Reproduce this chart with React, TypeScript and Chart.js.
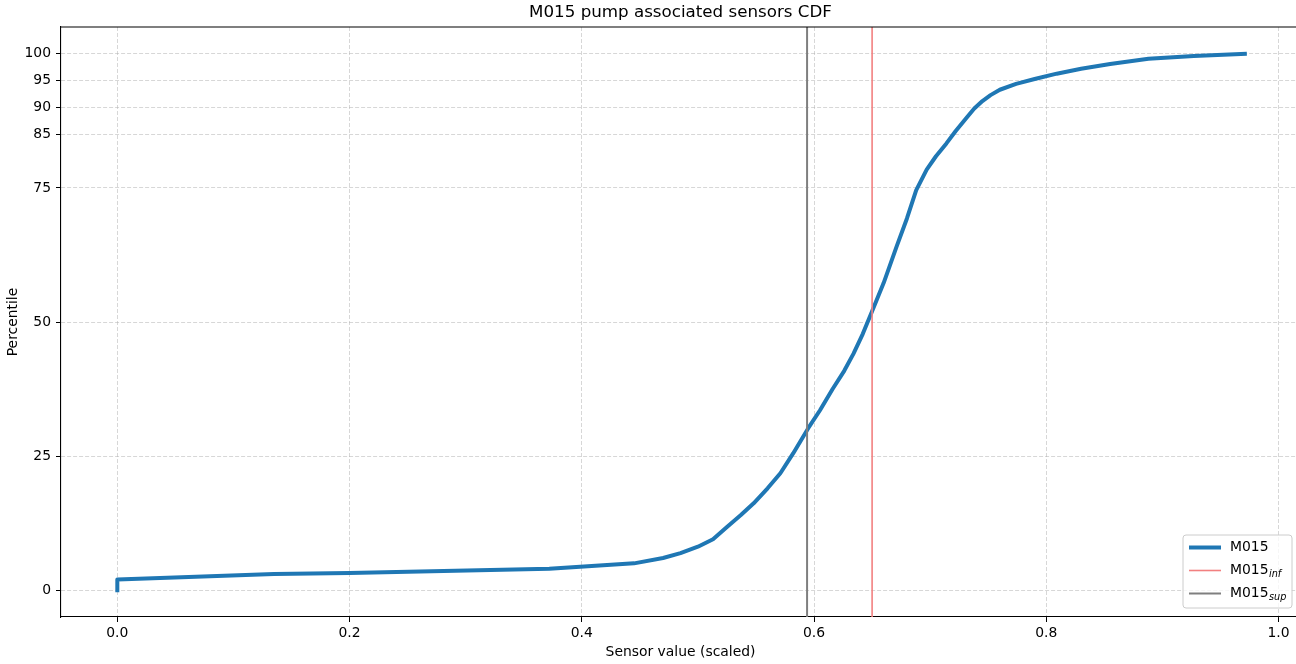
import React, { useEffect, useRef } from "react";
import { Chart, registerables } from "chart.js";

Chart.register(...registerables);

// ---- data ----
const seriesName = "M015";
const cdfX = [0, 0, 0.135, 0.2, 0.372, 0.445, 0.47, 0.485, 0.5, 0.513, 0.525, 0.537, 0.548, 0.56, 0.571, 0.582, 0.595, 0.605, 0.616, 0.626, 0.634, 0.642, 0.65, 0.66, 0.671, 0.68, 0.688, 0.697, 0.705, 0.714, 0.722, 0.731, 0.738, 0.745, 0.752, 0.76, 0.774, 0.79, 0.809, 0.83, 0.855, 0.888, 0.927, 0.971];
const cdfY = [0, 2.0, 3.0, 3.2, 4.0, 5.0, 6.0, 6.9, 8.1, 9.5, 11.8, 14.0, 16.2, 19.0, 21.8, 25.5, 30.2, 33.5, 37.5, 40.9, 44.1, 47.8, 52.0, 57.3, 64.0, 69.3, 74.6, 78.4, 80.9, 83.3, 85.6, 88.0, 89.8, 91.2, 92.3, 93.3, 94.4, 95.3, 96.3, 97.2, 98.1, 99.1, 99.6, 100];
const infValue = 0.65;
const supValue = 0.594;
const xTicks = [0, 0.2, 0.4, 0.6, 0.8, 1.0];
const yTicks = [0, 25, 50, 75, 85, 90, 95, 100];
const xRange = [-0.0485, 1.0185];
const yRange = [-5, 105];
const titleText = "M015 pump associated sensors CDF";
const xLabel = "Sensor value (scaled)";
const yLabel = "Percentile";

const FONT = "'DejaVu Sans', 'Liberation Sans', sans-serif";
const BLUE = "#1f77b4";
const RED = "#f28080";
const GREY = "#7f7f7f";
const FS = 13.9;

const framePlugin = {
  id: "mplFrame",
  afterDraw(chart: any) {
    const { ctx, chartArea } = chart;
    const { left, right, top, bottom } = chartArea;
    ctx.save();
    // top spine
    ctx.strokeStyle = "#000";
    ctx.lineWidth = 1.1;
    ctx.beginPath();
    ctx.moveTo(left, top);
    ctx.lineTo(right, top);
    ctx.stroke();
    // title
    ctx.fillStyle = "#000";
    ctx.font = `16.7px ${FONT}`;
    ctx.textAlign = "center";
    ctx.textBaseline = "middle";
    ctx.fillText(titleText, (left + right) / 2, 13);

    // legend
    const w = 109;
    const h = 73;
    const x0 = right - 8 - w;
    const y0 = bottom - 9 - h;
    const r = 3;
    ctx.beginPath();
    ctx.moveTo(x0 + r, y0);
    ctx.lineTo(x0 + w - r, y0);
    ctx.arcTo(x0 + w, y0, x0 + w, y0 + r, r);
    ctx.lineTo(x0 + w, y0 + h - r);
    ctx.arcTo(x0 + w, y0 + h, x0 + w - r, y0 + h, r);
    ctx.lineTo(x0 + r, y0 + h);
    ctx.arcTo(x0, y0 + h, x0, y0 + h - r, r);
    ctx.lineTo(x0, y0 + r);
    ctx.arcTo(x0, y0, x0 + r, y0, r);
    ctx.closePath();
    ctx.fillStyle = "rgba(255,255,255,0.8)";
    ctx.fill();
    ctx.strokeStyle = "#cccccc";
    ctx.lineWidth = 1;
    ctx.stroke();

    const rows = [
      { color: BLUE, width: 4, sub: "" },
      { color: RED, width: 1.6, sub: "inf" },
      { color: GREY, width: 2, sub: "sup" },
    ];
    rows.forEach((row, i) => {
      const y = y0 + 12.5 + i * 23;
      ctx.strokeStyle = row.color;
      ctx.lineWidth = row.width;
      ctx.lineCap = "butt";
      ctx.beginPath();
      ctx.moveTo(x0 + 6, y);
      ctx.lineTo(x0 + 38, y);
      ctx.stroke();
      ctx.fillStyle = "#000";
      ctx.textAlign = "left";
      ctx.textBaseline = "middle";
      ctx.font = `${FS}px ${FONT}`;
      ctx.fillText(seriesName, x0 + 47, y);
      if (row.sub) {
        const mw = ctx.measureText(seriesName).width;
        ctx.font = `italic 9.7px ${FONT}`;
        ctx.fillText(row.sub, x0 + 47 + mw + 0.5, y + 4);
      }
    });
    ctx.restore();
  },
};

export default function App() {
  const canvasRef = useRef<HTMLCanvasElement | null>(null);

  useEffect(() => {
    if (!canvasRef.current) return;
    const curve = cdfX.map((x, i) => ({ x, y: cdfY[i] }));
    const infLine = [
      { x: infValue, y: yRange[0] },
      { x: infValue, y: yRange[1] },
    ];
    const supLine = [
      { x: supValue, y: yRange[0] },
      { x: supValue, y: yRange[1] },
    ];
    const gridColor = "rgba(176,176,176,0.5)";
    const chart = new Chart(canvasRef.current, {
      type: "line",
      data: {
        datasets: [
          {
            label: seriesName,
            data: curve,
            borderColor: BLUE,
            borderWidth: 4,
            pointRadius: 0,
            tension: 0,
            borderJoinStyle: "round",
            borderCapStyle: "square",
            order: 2,
          },
          {
            label: "M015 inf",
            data: infLine,
            borderColor: RED,
            borderWidth: 1.6,
            pointRadius: 0,
            order: 1,
          },
          {
            label: "M015 sup",
            data: supLine,
            borderColor: GREY,
            borderWidth: 2,
            pointRadius: 0,
            order: 0,
          },
        ],
      },
      options: {
        animation: false,
        responsive: true,
        maintainAspectRatio: false,
        layout: { padding: { top: 27, right: 20, left: 0, bottom: 0 } },
        plugins: {
          legend: { display: false },
          tooltip: { enabled: false },
          title: { display: false },
        },
        scales: {
          x: {
            type: "linear",
            min: xRange[0],
            max: xRange[1],
            afterBuildTicks: (scale: any) => {
              scale.ticks = xTicks.map((v) => ({ value: v }));
            },
            afterFit: (scale: any) => {
              scale.height = 47;
            },
            ticks: {
              autoSkip: false,
              maxRotation: 0,
              padding: 3,
              color: "#000",
              font: { family: FONT, size: FS },
              callback: (v: any) => Number(v).toFixed(1),
            },
            grid: {
              color: gridColor,
              lineWidth: 1,
              drawTicks: true,
              tickLength: 5,
              tickColor: "#000",
              tickWidth: 1,
              tickBorderDash: [],
            },
            border: { display: true, color: "#000", width: 1.1, dash: [4, 2] },
            title: {
              display: true,
              text: xLabel,
              color: "#000",
              font: { family: FONT, size: FS },
              padding: { top: 0, bottom: 3 },
            },
          },
          y: {
            type: "linear",
            min: yRange[0],
            max: yRange[1],
            afterBuildTicks: (scale: any) => {
              scale.ticks = yTicks.map((v) => ({ value: v }));
            },
            afterFit: (scale: any) => {
              scale.width = 61;
            },
            ticks: {
              autoSkip: false,
              padding: 5,
              color: "#000",
              font: { family: FONT, size: FS },
              callback: (v: any) => String(v),
            },
            grid: {
              color: gridColor,
              lineWidth: 1,
              drawTicks: true,
              tickLength: 5,
              tickColor: "#000",
              tickWidth: 1,
              tickBorderDash: [],
            },
            border: { display: true, color: "#000", width: 1.1, dash: [4, 2] },
            title: {
              display: true,
              text: yLabel,
              color: "#000",
              font: { family: FONT, size: FS },
              padding: { top: 5, bottom: 0 },
            },
          },
        },
      },
      plugins: [framePlugin],
    } as any);
    return () => chart.destroy();
  }, []);

  return (
    <div
      style={{
        position: "fixed",
        left: 0,
        top: 0,
        width: 1296,
        height: 664,
        overflow: "hidden",
        background: "#fff",
      }}
    >
      <div style={{ position: "relative", width: 1320, height: 664 }}>
        <canvas ref={canvasRef} />
      </div>
    </div>
  );
}
